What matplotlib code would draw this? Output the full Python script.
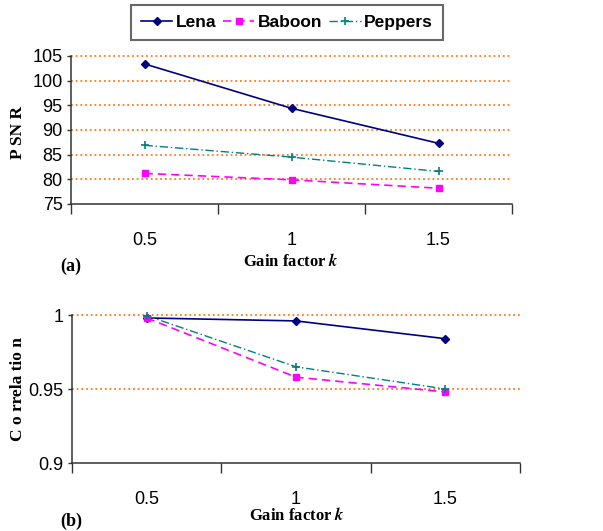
import matplotlib.pyplot as plt
from matplotlib.lines import Line2D

plt.rcParams['font.family'] = ['Liberation Sans', 'DejaVu Sans']
plt.rcParams['mathtext.fontset'] = 'stix'

gain = ['0.5', '1', '1.5']
series = ['Lena', 'Baboon', 'Peppers']

psnr_lena = [103.4, 94.4, 87.3]
psnr_baboon = [81.2, 79.9, 78.2]
psnr_peppers = [86.9, 84.5, 81.6]

corr_lena = [0.998, 0.996, 0.984]
corr_baboon = [0.998, 0.958, 0.948]
corr_peppers = [0.9995, 0.965, 0.950]

styles = {
    'Lena': dict(color='#000080', ls='-', marker='D', ms=4.2, lw=1.2),
    'Baboon': dict(color='#FF00FF', ls=(0, (5, 3)), marker='s', ms=5, lw=1.2),
    'Peppers': dict(color='#008080', ls=(0, (6, 2, 1, 2)), marker='+', ms=6, mew=1.2, lw=1.0),
}

W, H = 603, 531
fig = plt.figure(figsize=(W / 100, H / 100), dpi=100)

ax1 = fig.add_axes([71 / W, 1 - 204 / H, 441 / W, 148 / H])
ax2 = fig.add_axes([72 / W, 1 - 463 / H, 448 / W, 148 / H])

xpos = [0.5, 1.5, 2.5]
grid_c = '#FF7A20'


def style_axes(ax, ylim, yticks, grids, ylabels):
    ax.set_xlim(0, 3)
    ax.set_ylim(*ylim)
    for y in grids:
        ax.plot([0, 3], [y, y], color=grid_c, ls=(0, (1.0, 1.6)), lw=1.3, zorder=1,
                clip_on=False)
    for s in ['top', 'right']:
        ax.spines[s].set_visible(False)
    for s in ['left', 'bottom']:
        ax.spines[s].set_color('#333333')
        ax.spines[s].set_linewidth(1.1)
    ax.set_yticks(yticks)
    ax.set_yticklabels(ylabels, fontsize=13)
    ax.tick_params(axis='y', direction='out', length=3, width=1, pad=3, color='#333333')
    ax.set_xticks([0, 1, 2, 3])
    ax.set_xticklabels([])
    ax.set_xticks(xpos, minor=True)
    ax.set_xticklabels(gain, minor=True, fontsize=13)
    ax.tick_params(axis='x', which='major', direction='out', length=7, width=1, color='#333333')
    ax.tick_params(axis='x', which='minor', length=0, pad=20)


style_axes(ax1, (75, 105), [75, 80, 85, 90, 95, 100, 105],
           [80, 85, 90, 95, 100, 105], ['75', '80', '85', '90', '95', '100', '105'])
style_axes(ax2, (0.9, 1.0), [0.9, 0.95, 1.0], [0.95, 1.0], ['0.9', '0.95', '1'])

for name, vals in zip(series, [psnr_lena, psnr_baboon, psnr_peppers]):
    ax1.plot(xpos, vals, label=name, zorder=3, clip_on=False, **styles[name])
for name, vals in zip(series, [corr_lena, corr_baboon, corr_peppers]):
    ax2.plot(xpos, vals, zorder=3, clip_on=False, **styles[name])

handles = [Line2D([], [], **styles[n]) for n in series]
leg = fig.legend(handles, series, loc='center', bbox_to_anchor=(287 / W, 1 - 22.5 / H),
                 ncol=3, frameon=True, fancybox=False, handlelength=1.8, handletextpad=0.2,
                 columnspacing=0.4, borderpad=0.6, prop={'size': 12.5, 'weight': 'bold'})
leg.get_frame().set_edgecolor('#444444')
leg.get_frame().set_linewidth(1.5)

serif = ['Liberation Serif', 'DejaVu Serif']
fig.text(18 / W, 1 - 132 / H, 'P SN R', rotation=90, ha='center', va='center',
         family=serif, fontsize=12.5, fontweight='bold')
fig.text(18 / W, 1 - 389 / H, 'C o rrela tio n', rotation=90, ha='center', va='center',
         family=serif, fontsize=12.5, fontweight='bold')
fig.text(291 / W, 1 - 262 / H, r'Gain factor $\boldsymbol{k}$', ha='center', va='center',
         family=serif, fontsize=12, fontweight='bold')
fig.text(297 / W, 1 - 516 / H, r'Gain factor $\boldsymbol{k}$', ha='center', va='center',
         family=serif, fontsize=12, fontweight='bold')
fig.text(60 / W, 1 - 266 / H, '(a)', ha='left', va='center',
         family=serif, fontsize=13, fontweight='bold')
fig.text(60 / W, 1 - 521 / H, '(b)', ha='left', va='center',
         family=serif, fontsize=13, fontweight='bold')

fig.savefig('out.png', dpi=100)
